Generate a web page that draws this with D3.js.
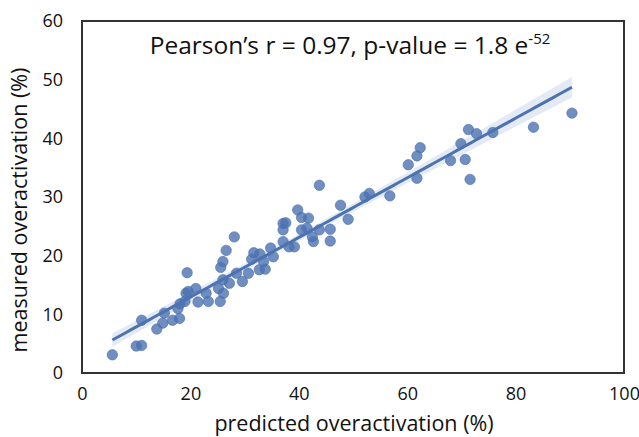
<!DOCTYPE html>
<html><head><meta charset="utf-8">
<script src="https://cdn.jsdelivr.net/npm/d3@7"></script>
<style>body{margin:0;background:#fff}svg{display:block}text{font-family:"Open Sans",sans-serif;fill:#111}</style>
</head><body><svg id="c" width="639" height="437"></svg>
<script>
const predicted = [5.6,10.0,11.0,11.0,13.8,14.9,15.2,16.7,18.0,17.7,18.1,19.0,19.4,19.2,19.6,21.0,21.4,23.3,22.9,25.5,25.2,26.1,26.0,27.2,25.6,26.0,26.6,28.1,28.5,29.6,30.7,31.3,31.7,32.8,32.7,33.8,33.5,34.8,35.3,37.1,37.1,37.1,37.6,38.2,39.2,39.8,40.5,41.8,40.5,41.5,42.7,42.5,43.8,45.8,45.8,43.8,47.7,49.1,52.2,53.0,56.8,60.2,61.8,62.4,61.8,68.0,70.7,69.9,71.6,71.3,72.8,75.8,83.3,90.4];
const measured  = [3.1,4.6,4.7,9.0,7.5,8.5,10.2,9.0,9.3,11.0,11.8,12.2,17.1,13.6,13.9,14.4,12.1,12.2,13.6,12.2,14.4,13.6,15.9,15.3,18.0,19.0,20.9,23.2,17.0,15.6,17.0,19.4,20.5,20.3,17.6,17.7,19.0,21.3,19.8,22.4,24.4,25.5,25.6,21.5,21.5,27.8,26.5,26.4,24.4,24.7,22.4,23.2,24.4,24.5,22.5,32.0,28.6,26.2,30.0,30.6,30.2,35.5,37.0,38.4,33.2,36.2,36.4,39.1,33.0,41.5,40.8,41.0,41.9,44.3];
const xTicks = [0,20,40,60,80,100];
const yTicks = [0,10,20,30,40,50,60];
const xLabel = "predicted overactivation (%)";
const yLabel = "measured overactivation (%)";

const svg = d3.select("#c");
const x = d3.scaleLinear().domain([0,100]).range([82,624]);
const y = d3.scaleLinear().domain([0,60]).range([373,21]);
const col = "#4c72b0";

// regression
const n = predicted.length;
const mx = d3.mean(predicted), my = d3.mean(measured);
let sxx=0, sxy=0;
for (let i=0;i<n;i++){ sxx += (predicted[i]-mx)**2; sxy += (predicted[i]-mx)*(measured[i]-my); }
const b = sxy/sxx, a = my - b*mx;
let sse=0; for (let i=0;i<n;i++){ sse += (measured[i]-(a+b*predicted[i]))**2; }
const s = Math.sqrt(sse/(n-2)), t = 1.994;
const xmin = d3.min(predicted), xmax = d3.max(predicted);
const grid = d3.range(0,101).map(k => xmin + (xmax-xmin)*k/100);
const band = grid.map(v => { const se = s*Math.sqrt(1/n + (v-mx)**2/sxx); const yh=a+b*v; return {v, lo:yh-t*se, hi:yh+t*se, yh}; });

svg.append("path").datum(band)
  .attr("d", d3.area().x(d=>x(d.v)).y0(d=>y(d.lo)).y1(d=>y(d.hi)))
  .attr("fill", col).attr("fill-opacity", 0.15);

svg.append("g").selectAll("circle").data(predicted).join("circle")
  .attr("cx", (d)=>x(d)).attr("cy", (d,i)=>y(measured[i])).attr("r", 5.2)
  .attr("fill", col).attr("fill-opacity", 0.8).attr("stroke", col).attr("stroke-opacity",0.8).attr("stroke-width",0.8);

svg.append("path").datum(band)
  .attr("d", d3.line().x(d=>x(d.v)).y(d=>y(d.yh)))
  .attr("fill","none").attr("stroke", col).attr("stroke-width", 3);

// frame
svg.append("rect").attr("x",82).attr("y",21).attr("width",542).attr("height",352)
  .attr("fill","none").attr("stroke","#333").attr("stroke-width",2);

// axes
const xa = svg.append("g").attr("transform","translate(0,373)")
  .call(d3.axisBottom(x).tickValues(xTicks).tickSize(0).tickPadding(14).tickFormat(d3.format("d")));
xa.select(".domain").remove();
xa.selectAll("text").attr("font-size",18).attr("font-family","Open Sans").attr("fill","#111");
const ya = svg.append("g").attr("transform","translate(82,0)")
  .call(d3.axisLeft(y).tickValues(yTicks).tickSize(0).tickPadding(19).tickFormat(d3.format("d")));
ya.select(".domain").remove();
ya.selectAll("text").attr("font-size",18).attr("font-family","Open Sans").attr("fill","#111");

svg.append("text").attr("x",354).attr("y",431).attr("text-anchor","middle").attr("font-size",21.5).text(xLabel);
svg.append("text").attr("transform","translate(27,210) rotate(-90)").attr("text-anchor","middle").attr("font-size",21.5).text(yLabel);

const ann = svg.append("text").attr("x",350).attr("y",54).attr("text-anchor","middle").attr("font-size",24.5);
ann.append("tspan").text("Pearson’s r = 0.97, p-value = 1.8 e");
ann.append("tspan").attr("dy",-10).attr("font-size",15).text("-52");
</script></body></html>
